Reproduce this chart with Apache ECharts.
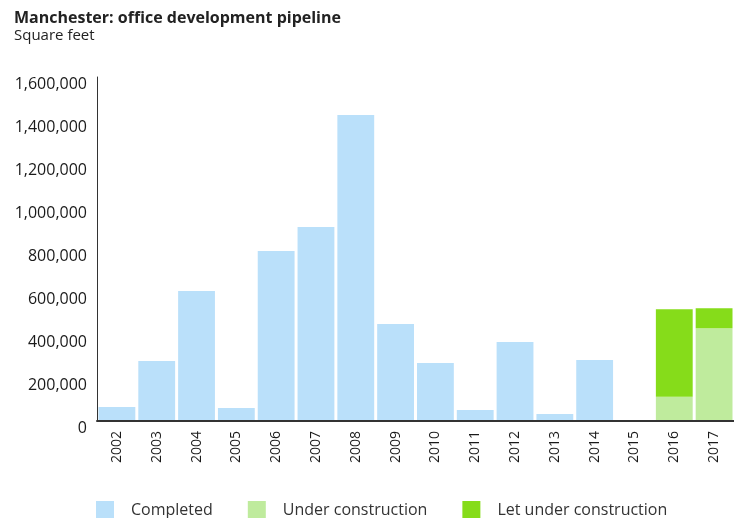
<!DOCTYPE html>
<html>
<head>
<meta charset="utf-8">
<script src="https://cdn.jsdelivr.net/npm/echarts@6/dist/echarts.min.js"></script>
<style>
html,body{margin:0;padding:0;background:#fff;}
#chart{width:734px;height:518px;}
</style>
</head>
<body>
<div id="chart"></div>
<script>
var categories = ['2002','2003','2004','2005','2006','2007','2008','2009','2010','2011','2012','2013','2014','2015','2016','2017'];
var completed = [65000, 279000, 605000, 60000, 791000, 902000, 1423000, 451000, 270000, 51000, 367000, 33000, 284000, null, null, null];
var underConstruction = [null, null, null, null, null, null, null, null, null, null, null, null, null, null, 113000, 431000];
var letUnderConstruction = [null, null, null, null, null, null, null, null, null, null, null, null, null, null, 407000, 93000];
var yTicks = [0, 200000, 400000, 600000, 800000, 1000000, 1200000, 1400000, 1600000];

var chart = echarts.init(document.getElementById('chart'), null, {renderer: 'canvas'});
var FONT = 'Open Sans';
chart.setOption({
  animation: false,
  backgroundColor: '#ffffff',
  title: {
    text: 'Manchester: office development pipeline',
    subtext: 'Square feet',
    left: 9,
    top: 5,
    itemGap: 2,
    textStyle: {fontFamily: FONT, fontSize: 16, fontWeight: 'bold', color: '#222'},
    subtextStyle: {fontFamily: FONT, fontSize: 15, color: '#222'}
  },
  legend: {
    left: 96,
    top: 501,
    padding: 0,
    itemWidth: 18,
    itemHeight: 18,
    itemGap: 35,
    icon: 'rect',
    textStyle: {fontFamily: FONT, fontSize: 16, color: '#333', padding: [0, 0, 0, 12]},
    data: ['Completed', 'Under construction', 'Let under construction']
  },
  grid: {left: 97, top: 77, width: 639, height: 344, containLabel: false},
  xAxis: {
    type: 'category',
    data: categories,
    z: 5,
    axisLine: {show: true, lineStyle: {color: '#333', width: 2}},
    axisTick: {show: false},
    axisLabel: {rotate: 90, margin: 10, fontFamily: FONT, fontSize: 14, color: '#1a1a1a', interval: 0},
    splitLine: {show: false}
  },
  yAxis: {
    type: 'value',
    min: yTicks[0],
    max: yTicks[yTicks.length - 1],
    interval: yTicks[1] - yTicks[0],
    z: 5,
    axisLine: {show: true, lineStyle: {color: '#333', width: 1}},
    axisTick: {show: false},
    splitLine: {show: false},
    axisLabel: {margin: 10, fontFamily: FONT, fontSize: 16, color: '#1a1a1a', verticalAlign: 'top', lineHeight: 15}
  },
  series: [
    {name: 'Completed', type: 'bar', stack: 'a', data: completed, barCategoryGap: '7.5%', itemStyle: {color: '#bae0fa'}},
    {name: 'Under construction', type: 'bar', stack: 'a', data: underConstruction, itemStyle: {color: '#bfeb9d'}},
    {name: 'Let under construction', type: 'bar', stack: 'a', data: letUnderConstruction, itemStyle: {color: '#86dc1a'}}
  ]
});
</script>
</body>
</html>
